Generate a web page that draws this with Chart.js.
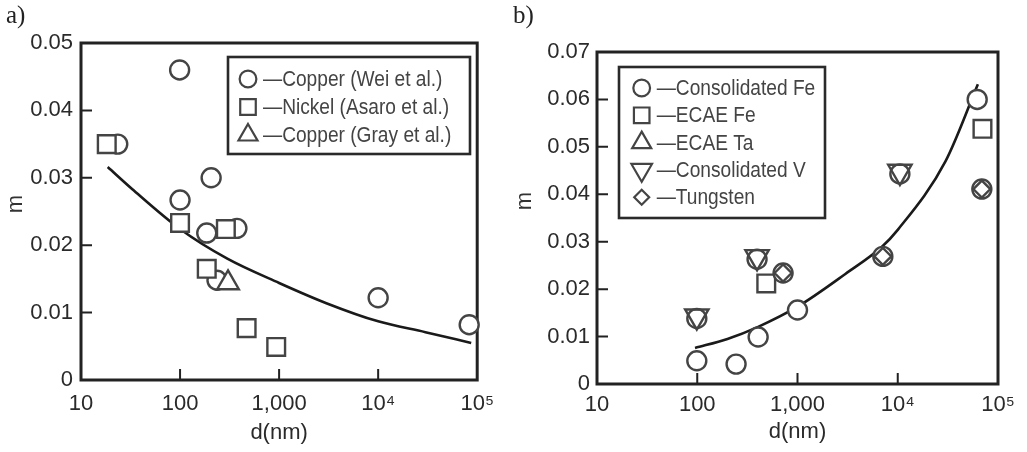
<!DOCTYPE html>
<html>
<head>
<meta charset="utf-8">
<script src="https://cdn.jsdelivr.net/npm/chart.js@4.4.0/dist/chart.umd.min.js"></script>
<style>
  html, body { margin: 0; padding: 0; background: #fff; }
  body { width: 1027px; height: 452px; position: relative; overflow: hidden; }
  #wrapA { position: absolute; left: 0; top: 0; width: 505px; height: 452px; }
  #wrapB { position: absolute; left: 505px; top: 0; width: 522px; height: 452px; }
  .tag { position: absolute; top: 0; line-height: 30px; font-family: "Liberation Serif", "DejaVu Serif", serif; font-size: 25px; color: #222; }
</style>
</head>
<body>
<div id="wrapA"><canvas id="chartA" width="505" height="452"></canvas></div>
<div id="wrapB"><canvas id="chartB" width="522" height="452"></canvas></div>
<div class="tag" style="left:6px">a)</div>
<div class="tag" style="left:513px">b)</div>
<script>
// ---- shared axis ticks ----
const xTickValues = [10, 100, 1000, 10000, 100000];
const xTickLabels = ['10', '100', '1,000', '10\u2074', '10\u2075'];

// ---- panel a) : strain-rate sensitivity, Cu and Ni ----
const copperWeiD = [99, 23.5, 100, 206, 186, 375, 236, 10000, 83000];
const copperWeiM = [0.046, 0.035, 0.0267, 0.030, 0.0218, 0.0225, 0.0148, 0.0122, 0.0082];
const nickelAsaroD = [18.2, 100, 290, 186, 470, 935];
const nickelAsaroM = [0.035, 0.0233, 0.0224, 0.0165, 0.0077, 0.0049];
const copperGrayD = [305];
const copperGrayM = [0.0144];
const fitAD = [18.6, 33, 100, 300, 1000, 3000, 10000, 30000, 87000];
const fitAM = [0.0316, 0.0283, 0.0224, 0.0180, 0.0144, 0.0114, 0.0087, 0.0071, 0.0055];
const yTicksA = [0, 0.01, 0.02, 0.03, 0.04, 0.05];

// ---- panel b) : bcc metals ----
const consFeD = [99, 244, 405, 1000, 7100, 62000, 718, 69000, 99, 395, 10500];
const consFeM = [0.0049, 0.0042, 0.0099, 0.0156, 0.0269, 0.060, 0.0234, 0.0411, 0.0138, 0.0263, 0.0443];
const ecaeFeD = [488, 70000];
const ecaeFeM = [0.0212, 0.0538];
const ecaeTaD = [];
const ecaeTaM = [];
const consVD = [99, 395, 10500];
const consVM = [0.0143, 0.0268, 0.0448];
const tungstenD = [718, 7100, 69000];
const tungstenM = [0.0234, 0.0269, 0.0411];
const fitBD = [95, 200, 400, 1000, 3000, 7000, 10000, 30000, 63000];
const fitBM = [0.0076, 0.0095, 0.0120, 0.0163, 0.0232, 0.0290, 0.0325, 0.0470, 0.0632];
const yTicksB = [0, 0.01, 0.02, 0.03, 0.04, 0.05, 0.06, 0.07];

const pts = (xs, ys) => xs.map((x, i) => ({ x: x, y: ys[i] }));

const MARK = '#444';
const FONT = '"Liberation Sans", Arial, Helvetica, sans-serif';
const FS = 22;

function markerSet(label, xs, ys, style, radius, order, extra) {
  return Object.assign({
    label: label,
    data: pts(xs, ys),
    pointStyle: style,
    pointRadius: radius,
    pointBorderWidth: 2.4,
    pointBorderColor: MARK,
    pointBackgroundColor: '#fff',
    showLine: false,
    clip: false,
    order: order
  }, extra || {});
}

function curveSet(xs, ys) {
  return {
    type: 'line',
    label: 'fit',
    data: pts(xs, ys),
    borderColor: '#1a1a1a',
    borderWidth: 2.6,
    pointRadius: 0,
    fill: false,
    cubicInterpolationMode: 'monotone',
    clip: false,
    order: 10
  };
}

// frame, inward tick marks and rotated y title
const axesFrame = {
  id: 'axesFrame',
  beforeDatasetsDraw(chart, args, opts) {
    const { ctx, chartArea: a, scales } = chart;
    ctx.save();
    ctx.strokeStyle = '#222';
    ctx.lineWidth = 2;
    ctx.beginPath();
    scales.y.ticks.forEach(t => {
      const py = scales.y.getPixelForValue(t.value);
      if (py > a.top + 3 && py < a.bottom - 3) { ctx.moveTo(a.left, py); ctx.lineTo(a.left + 11, py); }
    });
    scales.x.ticks.forEach(t => {
      const px = scales.x.getPixelForValue(t.value);
      if (px > a.left + 3 && px < a.right - 3) { ctx.moveTo(px, a.bottom); ctx.lineTo(px, a.bottom - 11); }
    });
    ctx.stroke();
    ctx.lineWidth = 3;
    ctx.strokeRect(a.left, a.top, a.right - a.left, a.bottom - a.top);
    ctx.translate(opts.titleX, opts.titleY);
    ctx.rotate(-Math.PI / 2);
    ctx.fillStyle = '#333';
    ctx.font = FS + 'px ' + FONT;
    ctx.textAlign = 'center';
    ctx.textBaseline = 'middle';
    ctx.fillText(opts.title, 0, 0);
    ctx.restore();
  }
};

function drawMarker(ctx, style, r, rot, x, y) {
  if (Chart.helpers && Chart.helpers.drawPoint) {
    Chart.helpers.drawPoint(ctx, { pointStyle: style, radius: r, rotation: rot, borderWidth: 2 }, x, y);
    return;
  }
  ctx.beginPath();
  ctx.arc(x, y, r, 0, Math.PI * 2);
  ctx.fill(); ctx.stroke();
}

// boxed legend inside the plot area
const boxLegend = {
  id: 'boxLegend',
  afterDraw(chart, args, opts) {
    const ctx = chart.ctx;
    ctx.save();
    ctx.fillStyle = '#fff';
    ctx.fillRect(opts.left, opts.top, opts.width, opts.height);
    ctx.strokeStyle = '#2a2a2a';
    ctx.lineWidth = 2.6;
    ctx.strokeRect(opts.left, opts.top, opts.width, opts.height);
    opts.entries.forEach((idx, i) => {
      const ds = chart.data.datasets[idx];
      const y = opts.top + opts.firstRow + i * opts.rowGap;
      ctx.strokeStyle = MARK;
      ctx.fillStyle = '#fff';
      ctx.lineWidth = 2.2;
      drawMarker(ctx, ds.pointStyle, ds.pointRadius * 0.88, ds.pointRotation || 0, opts.markerX, y);
      ctx.save();
      ctx.translate(opts.textX, y + 1);
      ctx.scale(0.87, 1);
      ctx.fillStyle = '#444';
      ctx.font = FS + 'px ' + FONT;
      ctx.textAlign = 'left';
      ctx.textBaseline = 'middle';
      ctx.fillText('\u2014' + ds.label, 0, 0);
      ctx.restore();
    });
    ctx.restore();
  }
};

function makeOptions(cfg) {
  return {
    responsive: false,
    devicePixelRatio: 1,
    animation: false,
    events: [],
    layout: { padding: { left: 0, right: cfg.padRight, top: cfg.padTop, bottom: 0 } },
    scales: {
      x: {
        type: 'logarithmic',
        min: 10,
        max: 100000,
        afterFit: s => { s.height = cfg.xHeight; },
        afterBuildTicks: s => { s.ticks = xTickValues.map(v => ({ value: v })); },
        grid: { display: false, drawTicks: false },
        border: { display: false },
        ticks: {
          autoSkip: false,
          maxRotation: 0,
          padding: cfg.xPad,
          color: '#2a2a2a',
          font: { family: FONT, size: FS },
          callback: (v, i) => xTickLabels[i]
        },
        title: { display: true, text: 'd(nm)', color: '#2a2a2a', font: { family: FONT, size: FS }, padding: { top: 0, bottom: cfg.titlePad } }
      },
      y: {
        type: 'linear',
        min: 0,
        max: cfg.yMax,
        afterFit: s => { s.width = cfg.yWidth; },
        afterBuildTicks: s => { s.ticks = cfg.yTicks.map(v => ({ value: v })); },
        grid: { display: false, drawTicks: false },
        border: { display: false },
        ticks: {
          padding: cfg.yPad,
          color: '#2a2a2a',
          font: { family: FONT, size: FS },
          callback: v => (v === 0 ? '0' : v.toFixed(2))
        }
      }
    },
    plugins: {
      legend: { display: false },
      tooltip: { enabled: false },
      axesFrame: { title: 'm', titleX: cfg.mX, titleY: cfg.mY },
      boxLegend: cfg.legend
    }
  };
}

new Chart(document.getElementById('chartA'), {
  type: 'scatter',
  data: {
    datasets: [
      markerSet('Copper (Wei et al.)', copperWeiD, copperWeiM, 'circle', 9.5, 3),
      markerSet('Nickel (Asaro et al.)', nickelAsaroD, nickelAsaroM, 'rect', 12.5, 2),
      markerSet('Copper (Gray et al.)', copperGrayD, copperGrayM, 'triangle', 12.5, 1),
      curveSet(fitAD, fitAM)
    ]
  },
  options: makeOptions({
    padRight: 22, padTop: 43, xHeight: 72, yWidth: 81,
    xPad: 11, yPad: 8, titlePad: 6, yMax: 0.05, yTicks: yTicksA,
    mX: 16, mY: 204,
    legend: { left: 228, top: 57, width: 242, height: 97, firstRow: 22, rowGap: 28, markerX: 248, textX: 263, entries: [0, 1, 2] }
  }),
  plugins: [axesFrame, boxLegend]
});

new Chart(document.getElementById('chartB'), {
  type: 'scatter',
  data: {
    datasets: [
      markerSet('Consolidated Fe', consFeD, consFeM, 'circle', 9.5, 4),
      markerSet('ECAE Fe', ecaeFeD, ecaeFeM, 'rect', 12.5, 5),
      markerSet('ECAE Ta', ecaeTaD, ecaeTaM, 'triangle', 12.5, 3),
      markerSet('Consolidated V', consVD, consVM, 'triangle', 13.5, 2, { pointRotation: 180, pointBackgroundColor: 'rgba(0,0,0,0)' }),
      markerSet('Tungsten', tungstenD, tungstenM, 'rectRot', 8.5, 1, { pointBackgroundColor: 'rgba(0,0,0,0)' }),
      curveSet(fitBD, fitBM)
    ]
  },
  options: makeOptions({
    padRight: 29, padTop: 52, xHeight: 68, yWidth: 92,
    xPad: 8, yPad: 7, titlePad: 7, yMax: 0.07, yTicks: yTicksB,
    mX: 20, mY: 201,
    legend: { left: 114, top: 67, width: 206, height: 151, firstRow: 21, rowGap: 27.3, markerX: 136.7, textX: 151.7, entries: [0, 1, 2, 3, 4] }
  }),
  plugins: [axesFrame, boxLegend]
});
</script>
</body>
</html>
